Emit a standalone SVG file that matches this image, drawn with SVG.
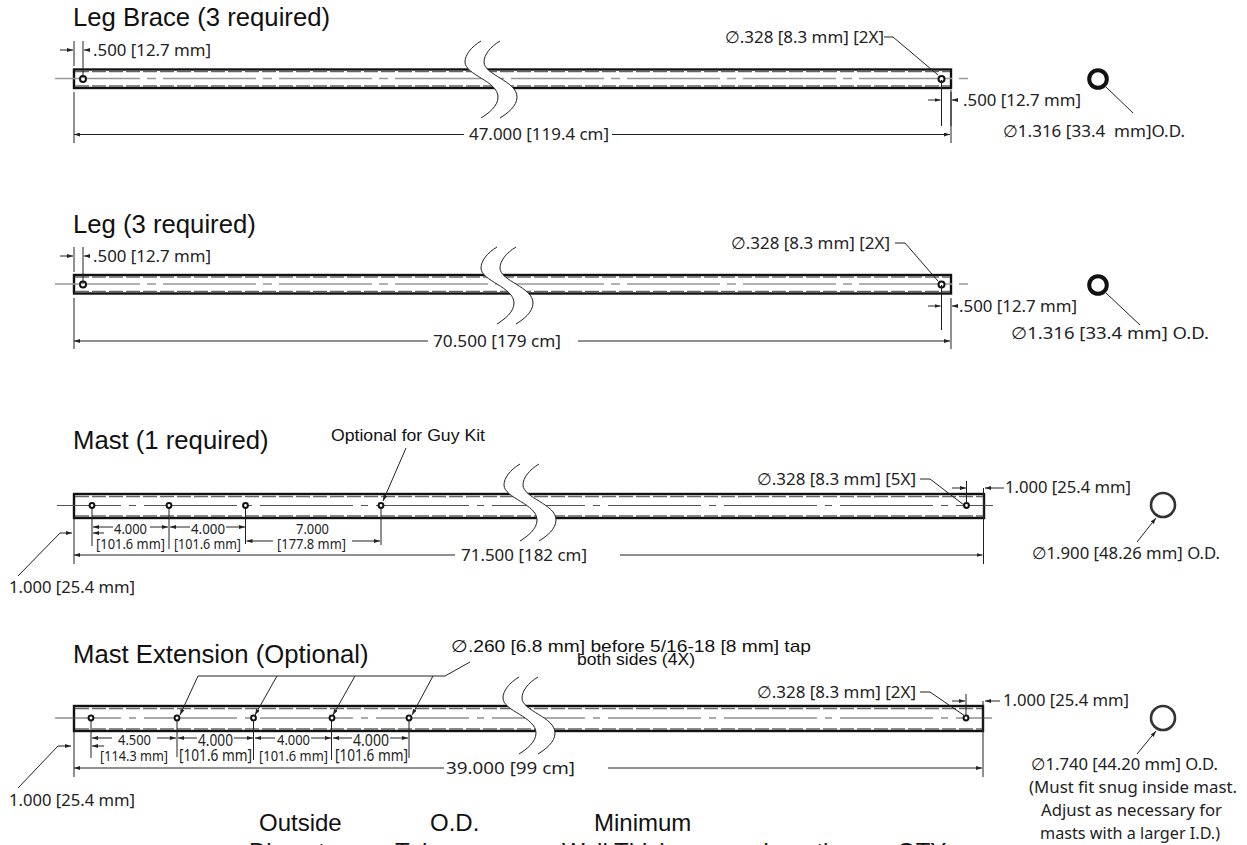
<svg xmlns="http://www.w3.org/2000/svg" xmlns:xlink="http://www.w3.org/1999/xlink" width="1247" height="845" viewBox="0 0 1247 845">
<style>
.bg{fill:#fff}
.tube{fill:#fff;stroke:#111;stroke-width:2.4}
.hid{fill:none;stroke:#666;stroke-width:1.6;stroke-dasharray:14 3}
.cl{fill:none;stroke:#999;stroke-width:1.3;stroke-dasharray:93 7 9 7}
.cl2{fill:none;stroke:#555;stroke-width:1;stroke-dasharray:93 8 7 8}
.hole{fill:#fff;stroke:#111;stroke-width:2}
.ring{fill:#fff;stroke:#111;stroke-width:4}
.ring2{fill:#fff;stroke:#333;stroke-width:2.6}
.ln{fill:none;stroke:#222;stroke-width:1}
.ar{fill:none;stroke:#222;stroke-width:1;marker-end:url(#a)}
.brk{fill:none;stroke:#222;stroke-width:1}
.t{font-family:"Noto Sans","DejaVu Sans",sans-serif;font-size:16.5px;fill:#222;white-space:pre}
.s{font-family:"Noto Sans","DejaVu Sans",sans-serif;font-size:14px;fill:#222}
.m{font-family:"Noto Sans","DejaVu Sans",sans-serif;font-size:15.5px;fill:#222}
.h{font-family:"Liberation Sans",Arial,sans-serif;font-size:25.7px;fill:#111}
.k{font-family:"Liberation Sans",Arial,sans-serif;font-size:24px;fill:#111}
.o{font-family:"Liberation Sans",Arial,sans-serif;font-size:17px;fill:#111}
</style>
<defs>
<marker id="a" markerWidth="6" markerHeight="4" refX="6" refY="2" orient="auto" markerUnits="userSpaceOnUse"><path d="M0 0L6 2L0 4Z" fill="#222"/></marker>
<g id="b">
<path fill="#fff" d="M0 0C-10 6-16 14-16 21C-16 34 17 40 17 56C17 65 8 72 0 77L19 77C27 72 36 65 36 56C36 40 3 34 3 21C3 14 9 6 19 0Z"/>
<path class="brk" d="M0 0C-10 6-16 14-16 21C-16 34 17 40 17 56C17 65 8 72 0 77"/>
<path class="brk" d="M19 0C9 6 3 14 3 21C3 34 36 40 36 56C36 65 27 72 19 77"/>
</g>
</defs>
<rect class="bg" width="1247" height="845"/>

<g id="leg-brace">
<rect class="tube" x="74" y="69.500" width="877" height="18.500"/>
<path class="hid" d="M75 71.500H950M75 86H950"/>
<path class="cl" stroke-dashoffset="8" d="M55 78.500H969"/>
<use xlink:href="#b" href="#b" x="481" y="41"/>
<circle class="hole" cx="83" cy="79" r="3"/>
<circle class="hole" cx="941.500" cy="79" r="3"/>
<text class="h" x="73" y="26">Leg Brace (3 required)</text>
<text class="t" x="93" y="56" textLength="118" lengthAdjust="spacingAndGlyphs">.500 [12.7 mm]</text>
<text class="t" x="469" y="140" textLength="140" lengthAdjust="spacingAndGlyphs">47.000 [119.4 cm]</text>
<text class="t" x="725" y="43" textLength="159" lengthAdjust="spacingAndGlyphs">∅.328 [8.3 mm] [2X]</text>
<text class="t" x="963" y="106" textLength="118" lengthAdjust="spacingAndGlyphs">.500 [12.7 mm]</text>
<circle class="ring" cx="1098" cy="79" r="8.800"/>
<text class="t" x="1003" y="137" textLength="182" lengthAdjust="spacingAndGlyphs" xml:space="preserve">∅1.316 [33.4  mm]O.D.</text>
</g>

<g id="leg">
<rect class="tube" x="74" y="275" width="877" height="18.500"/>
<path class="hid" d="M75 277H950M75 291.500H950"/>
<path class="cl" stroke-dashoffset="8" d="M55 284H969"/>
<use xlink:href="#b" href="#b" x="497" y="247"/>
<circle class="hole" cx="83" cy="284.500" r="3"/>
<circle class="hole" cx="941.500" cy="284.500" r="3"/>
<text class="h" x="73" y="233">Leg (3 required)</text>
<text class="t" x="93" y="262" textLength="118" lengthAdjust="spacingAndGlyphs">.500 [12.7 mm]</text>
<text class="t" x="433" y="347" textLength="128" lengthAdjust="spacingAndGlyphs">70.500 [179 cm]</text>
<text class="t" x="731" y="249" textLength="159" lengthAdjust="spacingAndGlyphs">∅.328 [8.3 mm] [2X]</text>
<text class="t" x="959" y="312" textLength="118" lengthAdjust="spacingAndGlyphs">.500 [12.7 mm]</text>
<circle class="ring" cx="1098" cy="285" r="8.800"/>
<text class="t" x="1011" y="339" textLength="198" lengthAdjust="spacingAndGlyphs">∅1.316 [33.4 mm] O.D.</text>
</g>

<g id="mast">
<rect class="tube" x="74" y="494" width="910" height="24"/>
<path class="hid" d="M75 496.500H983M75 516H983"/>
<path class="cl2" stroke-dashoffset="29" d="M57 505.500H993"/>
<use xlink:href="#b" href="#b" x="520" y="464"/>
<circle class="hole" cx="92" cy="505.500" r="2.400"/>
<circle class="hole" cx="169" cy="505.500" r="2.400"/>
<circle class="hole" cx="245.500" cy="505.500" r="2.400"/>
<circle class="hole" cx="381" cy="505.500" r="2.400"/>
<circle class="hole" cx="966.500" cy="505.500" r="2.400"/>
<text class="h" x="73" y="449">Mast (1 required)</text>
<text class="o" x="331" y="441" textLength="154" lengthAdjust="spacingAndGlyphs">Optional for Guy Kit</text>
<text class="s" x="114" y="534" textLength="33" lengthAdjust="spacingAndGlyphs">4.000</text>
<text class="s" x="191" y="534" textLength="34" lengthAdjust="spacingAndGlyphs">4.000</text>
<text class="s" x="296" y="534" textLength="33" lengthAdjust="spacingAndGlyphs">7.000</text>
<text class="s" x="96" y="549" textLength="69" lengthAdjust="spacingAndGlyphs">[101.6 mm]</text>
<text class="s" x="174" y="549" textLength="67" lengthAdjust="spacingAndGlyphs">[101.6 mm]</text>
<text class="s" x="277" y="549" textLength="69" lengthAdjust="spacingAndGlyphs">[177.8 mm]</text>
<text class="t" x="461" y="561" textLength="126" lengthAdjust="spacingAndGlyphs">71.500 [182 cm]</text>
<text class="t" x="9" y="593" textLength="126" lengthAdjust="spacingAndGlyphs">1.000 [25.4 mm]</text>
<text class="t" x="757" y="485" textLength="159" lengthAdjust="spacingAndGlyphs">∅.328 [8.3 mm] [5X]</text>
<text class="t" x="1005" y="493" textLength="126" lengthAdjust="spacingAndGlyphs">1.000 [25.4 mm]</text>
<circle class="ring2" cx="1163" cy="505" r="12"/>
<text class="t" x="1032" y="559" textLength="188" lengthAdjust="spacingAndGlyphs">∅1.900 [48.26 mm] O.D.</text>
</g>

<g id="mast-extension">
<rect class="tube" x="74" y="706" width="909" height="25"/>
<path class="hid" d="M75 708.500H982M75 729H982"/>
<path class="cl2" stroke-dashoffset="27" d="M55 718H992"/>
<use xlink:href="#b" href="#b" x="519" y="677"/>
<circle class="hole" cx="91" cy="718" r="2.400"/>
<circle class="hole" cx="177" cy="718" r="2.400"/>
<circle class="hole" cx="253.500" cy="718" r="2.400"/>
<circle class="hole" cx="332" cy="718" r="2.400"/>
<circle class="hole" cx="409" cy="718" r="2.400"/>
<circle class="hole" cx="966" cy="718" r="2.400"/>
<text class="h" x="73" y="663">Mast Extension (Optional)</text>
<text class="o" x="451" y="652" textLength="360" lengthAdjust="spacingAndGlyphs">∅.260 [6.8 mm] before 5/16-18 [8 mm] tap</text>
<text class="o" x="577" y="665" textLength="118" lengthAdjust="spacingAndGlyphs">both sides (4X)</text>
<text class="s" x="118" y="745" textLength="33" lengthAdjust="spacingAndGlyphs">4.500</text>
<text class="m" x="198" y="746" textLength="35" lengthAdjust="spacingAndGlyphs">4.000</text>
<text class="s" x="277" y="745" textLength="33" lengthAdjust="spacingAndGlyphs">4.000</text>
<text class="m" x="353" y="746" textLength="36" lengthAdjust="spacingAndGlyphs">4.000</text>
<text class="s" x="100" y="761" textLength="68" lengthAdjust="spacingAndGlyphs">[114.3 mm]</text>
<text class="m" x="179" y="761" textLength="73" lengthAdjust="spacingAndGlyphs">[101.6 mm]</text>
<text class="s" x="259" y="761" textLength="69" lengthAdjust="spacingAndGlyphs">[101.6 mm]</text>
<text class="m" x="335" y="761" textLength="73" lengthAdjust="spacingAndGlyphs">[101.6 mm]</text>
<text class="t" x="446" y="774" textLength="129" lengthAdjust="spacingAndGlyphs">39.000 [99 cm]</text>
<text class="t" x="9" y="806" textLength="126" lengthAdjust="spacingAndGlyphs">1.000 [25.4 mm]</text>
<text class="t" x="757" y="698" textLength="159" lengthAdjust="spacingAndGlyphs">∅.328 [8.3 mm] [2X]</text>
<text class="t" x="1003" y="706" textLength="126" lengthAdjust="spacingAndGlyphs">1.000 [25.4 mm]</text>
<circle class="ring2" cx="1163" cy="718" r="12"/>
<text class="t" x="1031" y="770" textLength="187" lengthAdjust="spacingAndGlyphs">∅1.740 [44.20 mm] O.D.</text>
<text class="t" x="1029" y="793" textLength="208" lengthAdjust="spacingAndGlyphs">(Must fit snug inside mast.</text>
<text class="t" x="1041" y="816" textLength="181" lengthAdjust="spacingAndGlyphs">Adjust as necessary for</text>
<text class="t" x="1040" y="839" textLength="180" lengthAdjust="spacingAndGlyphs">masts with a larger I.D.)</text>
</g>

<g id="table-head">
<text class="k" x="259" y="831">Outside</text>
<text class="k" x="430" y="831">O.D.</text>
<text class="k" x="594" y="831">Minimum</text>
<text class="k" x="249" y="860">Diameter</text>
<text class="k" x="395" y="860">Tube</text>
<text class="k" x="562" y="860">Wall Thickness</text>
<text class="k" x="763" y="860">Length</text>
<text class="k" x="897" y="860">QTY</text>
</g>

<g id="connectors">
<path class="ln" d="M74 41V66M83 41V78M74 92V143M951 92V143M941.500 80V126M951 90V126"/>
<path class="ar" d="M60 50H73"/><path class="ar" d="M90 50H84"/>
<path class="ar" d="M464 134.500H74"/><path class="ar" d="M612 134.500H950"/>
<path class="ar" d="M928 100H940.500"/><path class="ar" d="M958 100H952"/>
<path class="ln" d="M884 37H893L938 75"/>
<path class="ln" d="M1106 87L1133 113"/>
<path class="ln" d="M74 247V272M83 247V284M74 298V349M951 298V349M941.500 285V330"/>
<path class="ar" d="M60 256H73"/><path class="ar" d="M90 256H84"/>
<path class="ar" d="M428 341H74"/><path class="ar" d="M578 341H950"/>
<path class="ar" d="M928 306H940.500"/><path class="ar" d="M958 306H952"/>
<path class="ln" d="M895 243H905L938 281"/>
<path class="ln" d="M1106 293L1140 325"/>
<path class="ln" d="M92 509V546M169 509V549M245.500 509V544M381 509V545M74 518V564M983.500 488V564M966.500 481V503"/>
<path class="ar" d="M113 527H93"/><path class="ar" d="M150 527H168"/>
<path class="ar" d="M190 527H170"/><path class="ar" d="M226 527H245"/>
<path class="ar" d="M273 541H246.500"/><path class="ar" d="M352 541H380"/>
<path class="ar" d="M104 533H93"/>
<path class="ar" d="M455 555H74"/><path class="ar" d="M620 555H982.500"/>
<path class="ar" d="M18 576L60 533H72"/>
<path class="ln" d="M920 479H930L964 505"/>
<path class="ar" d="M952 488H966"/>
<path class="ar" d="M1004 488H985"/>
<path class="ar" d="M406 448L383 501"/>
<path class="ar" d="M1137 542L1156 518"/>
<path class="ln" d="M91 721V758M177 721V757M253.500 721V760M331.500 721V760M409 721V758M74 731V777M983 701V777M966 694V716"/>
<path class="ar" d="M112 738H92"/><path class="ar" d="M157 738H176"/>
<path class="ar" d="M197 738H178"/><path class="ar" d="M234 738H253"/>
<path class="ar" d="M275 738H255"/><path class="ar" d="M311 738H331"/>
<path class="ar" d="M352 738H333"/><path class="ar" d="M390 738H408"/>
<path class="ar" d="M104 746H92"/>
<path class="ar" d="M444 768H74"/><path class="ar" d="M608 768H982"/>
<path class="ar" d="M18 788L58 746H71"/>
<path class="ln" d="M920 692H930L965 716"/>
<path class="ar" d="M952 701H965"/>
<path class="ar" d="M1000 701H985"/>
<path class="ln" d="M470 662L445 676H198"/>
<path class="ar" d="M198 676L180 715"/>
<path class="ar" d="M277 676L255 715"/>
<path class="ar" d="M355 676L333 715"/>
<path class="ar" d="M433 676L412 715"/>
<path class="ar" d="M1137 754L1156 731"/>
</g>
</svg>
